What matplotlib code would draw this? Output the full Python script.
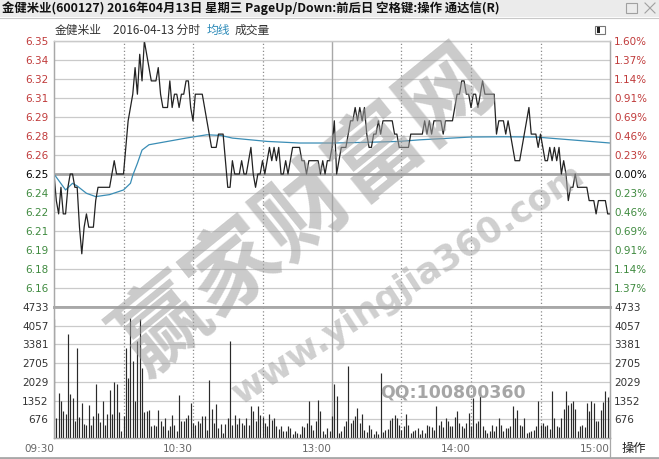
import numpy as np
import matplotlib.pyplot as plt
from matplotlib.lines import Line2D
from matplotlib.patches import Rectangle

# 金健米业 600127, 2016-04-13 minute data
prev_close = 6.25

price = [
    6.25, 6.23, 6.22, 6.24, 6.22, 6.22, 6.24, 6.25, 6.25, 6.24,
    6.24, 6.21, 6.19, 6.21, 6.22, 6.21, 6.21, 6.21, 6.23, 6.24,
    6.24, 6.24, 6.24, 6.24, 6.24, 6.25, 6.26, 6.25, 6.25, 6.25,
    6.25, 6.27, 6.29, 6.30, 6.31, 6.33, 6.31, 6.34, 6.32, 6.35,
    6.34, 6.33, 6.32, 6.32, 6.32, 6.33, 6.31, 6.30, 6.30, 6.30,
    6.32, 6.30, 6.31, 6.31, 6.30, 6.31, 6.31, 6.32, 6.32, 6.30,
    6.29, 6.31, 6.31, 6.31, 6.31, 6.30, 6.29, 6.28, 6.27, 6.27,
    6.27, 6.28, 6.28, 6.28, 6.26, 6.24, 6.24, 6.26, 6.25, 6.25,
    6.25, 6.26, 6.25, 6.25, 6.26, 6.27, 6.25, 6.24, 6.25, 6.25,
    6.26, 6.25, 6.26, 6.27, 6.26, 6.27, 6.26, 6.27, 6.25, 6.25,
    6.26, 6.25, 6.26, 6.27, 6.27, 6.27, 6.27, 6.26, 6.26, 6.25,
    6.26, 6.26, 6.26, 6.26, 6.26, 6.25, 6.26, 6.25, 6.26, 6.26,
    6.27, 6.29, 6.25, 6.26, 6.27, 6.27, 6.27, 6.28, 6.29, 6.29,
    6.30, 6.29, 6.30, 6.29, 6.30, 6.28, 6.27, 6.27, 6.28, 6.28,
    6.29, 6.28, 6.29, 6.29, 6.29, 6.29, 6.29, 6.28, 6.28, 6.27,
    6.27, 6.27, 6.27, 6.27, 6.28, 6.28, 6.28, 6.28, 6.28, 6.28,
    6.29, 6.28, 6.29, 6.28, 6.29, 6.29, 6.29, 6.29, 6.28, 6.29,
    6.29, 6.29, 6.29, 6.30, 6.31, 6.31, 6.32, 6.32, 6.31, 6.31,
    6.30, 6.31, 6.31, 6.30, 6.31, 6.32, 6.31, 6.31, 6.31, 6.31,
    6.31, 6.28, 6.29, 6.29, 6.29, 6.28, 6.29, 6.28, 6.27, 6.26,
    6.26, 6.26, 6.27, 6.28, 6.29, 6.30, 6.28, 6.28, 6.28, 6.27,
    6.28, 6.27, 6.26, 6.26, 6.27, 6.26, 6.27, 6.26, 6.27, 6.25,
    6.26, 6.25, 6.23, 6.24, 6.24, 6.25, 6.24, 6.24, 6.24, 6.24,
    6.24, 6.23, 6.23, 6.23, 6.22, 6.23, 6.23, 6.23, 6.23, 6.22,
    6.22,
]

volume = [
    4300, 720, 1625, 1325, 963, 867, 3770, 1590, 1445, 626,
    3250, 746, 1264, 505, 457, 1200, 457, 780, 1960, 900,
    578, 1324, 457, 867, 1745, 867, 2020, 1950, 940, 240,
    805, 3250, 2167, 4334, 2790, 1324, 3490, 4300, 2528, 940,
    963, 1023, 420, 480, 420, 1023, 600, 420, 720, 300,
    420, 840, 480, 240, 1565, 600, 600, 720, 840, 1264,
    540, 480, 600, 540, 780, 805, 300, 2107, 1047, 540,
    1228, 360, 505, 180, 505, 720, 3515, 480, 840, 505,
    720, 540, 480, 720, 480, 1144, 987, 600, 1144, 820,
    745, 540, 420, 867, 660, 720, 420, 336, 445, 240,
    240, 420, 360, 144, 240, 180, 144, 420, 385, 540,
    1324, 480, 300, 600, 1385, 963, 240, 144, 360, 265,
    780, 1950, 1505, 180, 265, 420, 600, 2590, 540, 660,
    780, 1083, 540, 867, 300, 216, 457, 336, 144, 240,
    144, 2350, 216, 300, 336, 660, 720, 840, 720, 480,
    300, 420, 867, 480, 180, 240, 300, 360, 144, 300,
    180, 480, 420, 385, 300, 1144, 480, 600, 385, 720,
    600, 420, 420, 745, 963, 540, 420, 360, 540, 900,
    420, 1450, 540, 600, 1800, 420, 300, 180, 265, 480,
    240, 420, 720, 480, 240, 360, 360, 420, 1144, 720,
    1023, 480, 420, 720, 180, 216, 265, 300, 420, 1350,
    480, 540, 420, 480, 336, 1710, 720, 420, 385, 720,
    1060, 1710, 1200, 1264, 1324, 1060, 265, 420, 480, 385,
    1264, 963, 1324, 1264, 625, 600, 1023, 1300, 1686, 1470,
    1500,
]

# average price line (均线), read at a few minutes
avg_minute = [0, 5, 8, 10, 14, 18, 24, 30, 33, 34, 36, 38, 41, 49, 57, 66,
              72, 77, 92, 106, 120, 135, 149, 158, 180, 194, 208, 223, 240]
avg_price = [6.250, 6.238, 6.243, 6.241, 6.2355, 6.233, 6.2345, 6.238, 6.243,
             6.249, 6.258, 6.268, 6.272, 6.2745, 6.277, 6.2795, 6.279, 6.277,
             6.2745, 6.2733, 6.2733, 6.2738, 6.2745, 6.2757, 6.2778, 6.278,
             6.2778, 6.2757, 6.2733]

price_labels = ['6.35', '6.34', '6.32', '6.31', '6.29', '6.28', '6.26', '6.25',
                '6.24', '6.22', '6.21', '6.19', '6.18', '6.16']
pct_labels = ['1.60%', '1.37%', '1.14%', '0.91%', '0.69%', '0.46%', '0.23%', '0.00%',
              '0.23%', '0.46%', '0.69%', '0.91%', '1.14%', '1.37%']
vol_max = 4733
vol_labels = ['4733', '4057', '3381', '2705', '2029', '1352', '676']
time_pos = [0, 60, 120, 180, 240]
time_labels = ['09:30', '10:30', '13:00', '14:00', '15:00']

W, H = 659, 459
RED = '#c03a3a'
GREEN = '#3f8a3f'
GRID = '#cacaca'
CJK = ['Noto Sans CJK SC', 'DejaVu Sans']

fig = plt.figure(figsize=(W / 100, H / 100), dpi=100)


def fx(px):
    return px / W


def fy(py):
    return 1 - py / H


ax = fig.add_axes([fx(54), fy(307), fx(610) - fx(54), fy(41) - fy(307)])
axv = fig.add_axes([fx(54), fy(438), fx(610) - fx(54), fy(307) - fy(438)])

minutes = np.arange(len(price))
step = 0.1 / 7
levels = [prev_close + k * step for k in range(7, -8, -1)]

# price panel
ax.set_xlim(0, 240)
ax.set_ylim(levels[-1], levels[0])
for i, lv in enumerate(levels[:-1]):
    if i == 7:
        ax.axhline(lv, color='#a4a4a4', lw=2, zorder=1)
    else:
        ax.axhline(lv, color=GRID, lw=0.9, zorder=1)
ax.plot(minutes, price, color='#222222', lw=0.9, zorder=3)
ax.plot(avg_minute, avg_price, color='#3a8db5', lw=0.9, zorder=2)

ax.set_yticks(levels[:-1])
ax.set_yticklabels(price_labels)
ax.set_xticks([])
ax.tick_params(axis='y', length=0, pad=4, labelsize=7.5)
for i, t in enumerate(ax.get_yticklabels()):
    t.set_color(RED if i < 7 else ('black' if i == 7 else GREEN))

ax2 = ax.twinx()
ax2.set_ylim(ax.get_ylim())
ax2.set_yticks(levels[:-1])
ax2.set_yticklabels(pct_labels)
ax2.tick_params(axis='y', length=0, pad=3, labelsize=7.5)
for i, t in enumerate(ax2.get_yticklabels()):
    t.set_color(RED if i < 7 else ('black' if i == 7 else GREEN))

# volume panel
axv.set_xlim(0, 240)
axv.set_ylim(0, vol_max)
vol_levels = [vol_max * k / 7 for k in range(7, 0, -1)]
for lv in vol_levels:
    axv.axhline(lv, color=GRID, lw=0.9, zorder=1)
axv.vlines(minutes, 0, volume, color='#2a2a2a', lw=0.85, zorder=3)
axv.set_yticks(vol_levels)
axv.set_yticklabels(vol_labels)
axv.tick_params(axis='y', length=0, pad=4, labelsize=7.5, labelcolor='#333333')
axv3 = axv.twinx()
axv3.set_ylim(0, vol_max)
axv3.set_yticks(vol_levels)
axv3.set_yticklabels(vol_labels)
axv3.tick_params(axis='y', length=0, pad=3, labelsize=7.5, labelcolor='#333333')

axv.set_xticks(time_pos)
axv.set_xticklabels(time_labels, ha='right')
axv.tick_params(axis='x', length=0, pad=4, labelsize=7.5, labelcolor='#666666')

# half-hour separators: dotted, solid at the lunch break
for a in (ax, axv):
    for m in range(30, 240, 30):
        if m == 120:
            a.axvline(m, color='#a8a8a8', lw=1, zorder=1)
        else:
            a.axvline(m, color='#8c8c8c', lw=0.9, ls=(0, (1, 1.8)), zorder=1)
for a in (ax, ax2, axv, axv3):
    for s in a.spines.values():
        s.set_color('#a8a8a8')
        s.set_linewidth(0.9)
ax.spines['bottom'].set_linewidth(2)
ax2.spines['bottom'].set_linewidth(2)
axv.spines['top'].set_visible(False)
axv3.spines['top'].set_visible(False)
ax.spines['top'].set_color(GRID)
ax2.spines['top'].set_color(GRID)

# title bar
fig.patches.append(Rectangle((0, fy(17)), 1, 1 - fy(17), transform=fig.transFigure,
                             facecolor='#ebebeb', edgecolor='none', zorder=0))
fig.lines.append(Line2D([0, 1], [fy(17.5), fy(17.5)], transform=fig.transFigure,
                        color='#c8c8c8', lw=0.8))
fig.text(fx(2), fy(8.5),
         '金健米业(600127) 2016年04月13日 星期三 PageUp/Down:前后日 空格键:操作 通达信(R)',
         family=CJK, fontsize=8.9, fontweight='bold', va='center', ha='left', color='#111111')
# window buttons
fig.patches.append(Rectangle((fx(626), fy(13)), fx(11), fy(3) - fy(13), transform=fig.transFigure,
                             facecolor='none', edgecolor='#a0a0a0', lw=0.8))
fig.lines.append(Line2D([fx(645), fx(655)], [fy(3), fy(13)], transform=fig.transFigure, color='#a0a0a0', lw=0.8))
fig.lines.append(Line2D([fx(645), fx(655)], [fy(13), fy(3)], transform=fig.transFigure, color='#a0a0a0', lw=0.8))

# subtitle
sub_y = fy(30)
fig.text(fx(55), sub_y, '金健米业', family=CJK, fontsize=8.5, color='#333333', va='center')
fig.text(fx(113), sub_y, '2016-04-13 分时', family=CJK, fontsize=8.5, color='#333333', va='center')
fig.text(fx(207), sub_y, '均线', family=CJK, fontsize=8.5, color='#2c8ab8', va='center')
fig.text(fx(235), sub_y, '成交量', family=CJK, fontsize=8.5, color='#333333', va='center')
fig.patches.append(Rectangle((fx(595), fy(34)), fx(10), fy(26) - fy(34), transform=fig.transFigure,
                             facecolor='white', edgecolor='#777777', lw=0.8))
fig.patches.append(Rectangle((fx(597), fy(32.5)), fx(3), fy(27.5) - fy(32.5), transform=fig.transFigure,
                             facecolor='#222222', edgecolor='none'))

# bottom area
fig.text(fx(622), fy(448), '操作', family=CJK, fontsize=8.8, color='#222222', va='center')
fig.lines.append(Line2D([fx(610), fx(610)], [fy(438), fy(457)], transform=fig.transFigure,
                        color='#a8a8a8', lw=0.9))
fig.lines.append(Line2D([0, 1], [fy(457.5), fy(457.5)], transform=fig.transFigure,
                        color='#a8a8a8', lw=2))

# watermark
fig.text(fx(306), fy(212), '赢家财富网', family=CJK, fontsize=66, fontweight='bold',
         color='#a0a0a0', alpha=0.55, rotation=39, ha='center', va='center', zorder=10)
fig.text(fx(408), fy(284), 'www.yingjia360.com', fontsize=25.5, fontweight='bold',
         color='#a8a8a8', alpha=0.55, rotation=33, ha='center', va='center', zorder=10)
fig.text(fx(380), fy(392), 'QQ:100800360', fontsize=12.5, fontweight='bold',
         color='#a6a6a6', ha='left', va='center', zorder=10)

fig.savefig('out.png', dpi=100)
